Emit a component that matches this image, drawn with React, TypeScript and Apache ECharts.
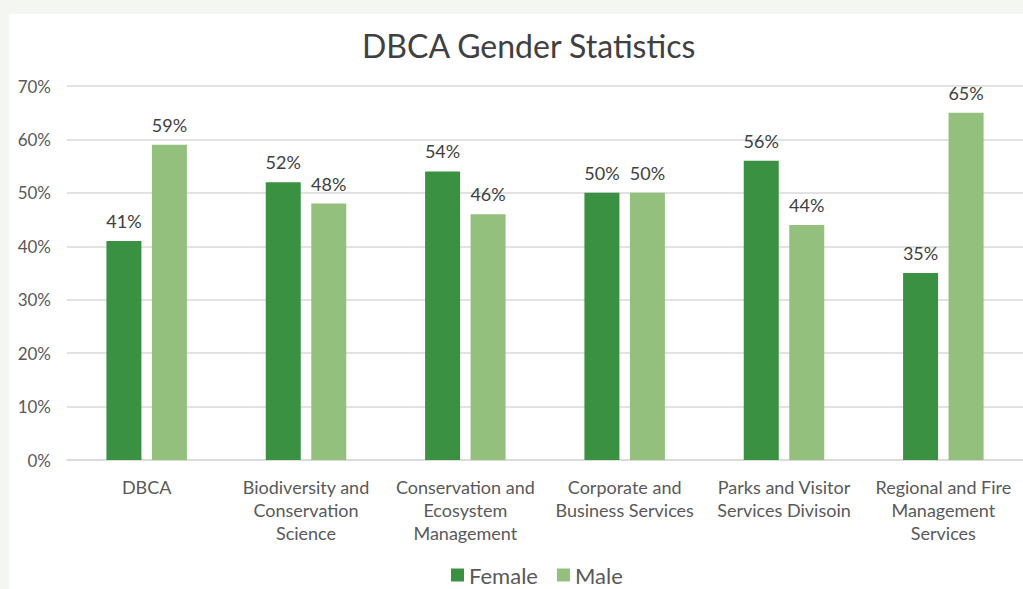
import React, { useEffect, useRef } from "react";
import * as echarts from "echarts";

const categories = [
  "DBCA",
  "Biodiversity and\nConservation\nScience",
  "Conservation and\nEcosystem\nManagement",
  "Corporate and\nBusiness Services",
  "Parks and Visitor\nServices Divisoin",
  "Regional and Fire\nManagement\nServices",
];
const female = [41, 52, 54, 50, 56, 35];
const male = [59, 48, 46, 50, 44, 65];
const yTicks = { min: 0, max: 70, interval: 10 };

const FONT = "Lato, 'Open Sans', sans-serif";

export default function App() {
  const ref = useRef<HTMLDivElement>(null);
  useEffect(() => {
    if (!ref.current) return;
    const chart = echarts.init(ref.current, undefined, { renderer: "svg" });
    const label = {
      show: true,
      position: "top" as const,
      distance: 11,
      formatter: "{c}%",
      color: "#404040",
      fontSize: 18,
      fontFamily: FONT,
    };
    chart.setOption({
      animation: false,
      backgroundColor: "#ffffff",
      title: {
        text: "DBCA Gender Statistics",
        left: 348,
        top: 10,
        textStyle: { color: "#404040", fontSize: 32, fontWeight: "normal", fontFamily: FONT },
      },
      legend: {
        bottom: -2,
        left: 437,
        itemWidth: 13,
        itemHeight: 13,
        itemGap: 19,
        icon: "rect",
        textStyle: { color: "#595959", fontSize: 22, fontFamily: FONT },
        data: ["Female", "Male"],
      },
      grid: { left: 58, right: -4, top: 72, bottom: 129 },
      xAxis: {
        type: "category",
        data: categories,
        axisLine: { show: true, lineStyle: { color: "#d9d9d9", width: 1.5 } },
        axisTick: { show: false },
        axisLabel: {
          color: "#595959",
          fontSize: 18,
          lineHeight: 23,
          margin: 15,
          interval: 0,
          fontFamily: FONT,
        },
      },
      yAxis: {
        type: "value",
        min: yTicks.min,
        max: yTicks.max,
        interval: yTicks.interval,
        axisLine: { show: false },
        axisTick: { show: false },
        axisLabel: {
          formatter: "{value}%",
          color: "#595959",
          fontSize: 17,
          margin: 16,
          fontFamily: FONT,
        },
        splitLine: { lineStyle: { color: "#d9d9d9", width: 1.5 } },
      },
      series: [
        {
          name: "Female",
          type: "bar",
          data: female,
          barWidth: 35,
          barGap: "30%",
          itemStyle: { color: "#3a9142" },
          label,
        },
        {
          name: "Male",
          type: "bar",
          data: male,
          barWidth: 35,
          itemStyle: { color: "#94c07e" },
          label,
        },
      ],
    });
    return () => chart.dispose();
  }, []);
  return (
    <div
      style={{
        position: "fixed",
        left: 0,
        top: 0,
        width: 1023,
        height: 589,
        background: "#f4f6f2",
        overflow: "hidden",
      }}
    >
      <div
        ref={ref}
        style={{ position: "absolute", left: 9, top: 14, width: 1014, height: 575 }}
      />
    </div>
  );
}
